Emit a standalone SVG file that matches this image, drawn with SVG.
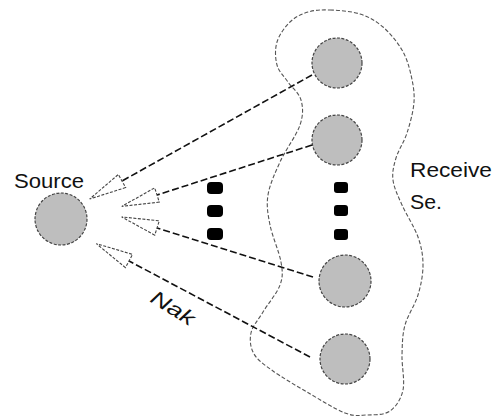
<svg xmlns="http://www.w3.org/2000/svg" width="493" height="418" viewBox="0 0 493 418">
  <style>
    .node { fill: #bebebe; stroke: #444; stroke-width: 1.2; stroke-dasharray: 3 1.5; }
    .link { fill: none; stroke: #111; stroke-width: 1.6; stroke-dasharray: 7 3; marker-end: url(#openTri); }
    .set { fill: none; stroke: #555; stroke-width: 1.1; stroke-dasharray: 4 2; }
    .dot { fill: #000; }
    .label { font-family: "Liberation Sans", Arial, sans-serif; font-size: 20px; fill: #111; }
  </style>
  <defs>
    <!-- open triangular head pointing back at the sender -->
    <marker id="openTri" viewBox="-2 -10 44 20" markerWidth="44" markerHeight="20" refX="0" refY="0" orient="auto" markerUnits="userSpaceOnUse">
      <path d="M0,-7.5 L37,0 L0,7.5 Z" fill="#fff" stroke="#444" stroke-width="1.1" stroke-dasharray="3 1.5"/>
    </marker>
  </defs>

  <!-- receiver set outline -->
  <path class="set" d="M330,10 C338.7,10.3 351.2,11.2 360,14 C368.8,16.8 376,21 383,27 C390,33 397.3,42 402,50 C406.7,58 409,66.3 411,75 C413,83.7 414.7,92.3 414,102 C413.3,111.7 410,123.7 407,133 C404,142.3 398.3,150.2 396,158 C393.7,165.8 392,172.2 393,180 C394,187.8 397.8,195.5 402,205 C406.2,214.5 414.5,227 418,237 C421.5,247 423,255.3 423,265 C423,274.7 421,285 418,295 C415,305 407.7,315 405,325 C402.3,335 402.3,344.2 402,355 C401.7,365.8 405,380.7 403,390 C401,399.3 396,406.8 390,411 C384,415.2 374.5,414.7 367,415 C359.5,415.3 355,416.8 345,413 C335,409.2 319,399 307,392 C295,385 281.8,377.3 273,371 C264.2,364.7 257.7,360.3 254,354 C250.3,347.7 249.5,340 251,333 C252.5,326 258.2,320 263,312 C267.8,304 277,293.3 280,285 C283,276.7 282.7,272 281,262 C279.3,252 272.2,236.2 270,225 C267.8,213.8 266.3,205.5 268,195 C269.7,184.5 274.7,173.7 280,162 C285.3,150.3 296.5,135.3 300,125 C303.5,114.7 303,107.2 301,100 C299,92.8 292,87.8 288,82 C284,76.2 278.8,71.7 277,65 C275.2,58.3 274.8,49.2 277,42 C279.2,34.8 284.8,27 290,22 C295.2,17 301.3,14 308,12 C314.7,10 321.3,9.7 330,10 Z"/>

  <!-- connectors: NAKs flowing back to the source -->
  <g id="connectors">
    <line class="link" x1="312" y1="75" x2="122" y2="181"/>
    <line class="link" x1="312" y1="145" x2="157" y2="195"/>
    <line class="link" x1="313" y1="277" x2="157" y2="228"/>
    <line class="link" x1="310" y1="357" x2="129" y2="261"/>
  </g>

  <!-- ellipsis marks -->
  <g id="ellipsis">
    <rect class="dot" x="207" y="182" width="16" height="12" rx="4"/>
    <rect class="dot" x="207" y="205" width="16" height="12" rx="4"/>
    <rect class="dot" x="207" y="228" width="16" height="12" rx="4"/>
    <rect class="dot" x="334" y="182" width="14" height="11" rx="3"/>
    <rect class="dot" x="334" y="205" width="14" height="11" rx="3"/>
    <rect class="dot" x="334" y="229" width="14" height="11" rx="3"/>
  </g>

  <g id="source">
    <circle class="node" cx="61" cy="219" r="26"/>
    <text class="label" x="14" y="188" textLength="70" lengthAdjust="spacingAndGlyphs">Source</text>
  </g>

  <g id="receiver1"><circle class="node" cx="337" cy="63" r="25"/></g>
  <g id="receiver2"><circle class="node" cx="337" cy="140" r="25"/></g>
  <g id="receiver3"><circle class="node" cx="345" cy="281" r="26"/></g>
  <g id="receiver4"><circle class="node" cx="345" cy="359" r="25"/></g>

  <g id="receiver-set-label">
    <text class="label" x="410" y="177" textLength="82" lengthAdjust="spacingAndGlyphs">Receive</text>
    <text class="label" x="410" y="209" textLength="32" lengthAdjust="spacingAndGlyphs">Se.</text>
  </g>

  <g id="nak-label">
    <text class="label" font-style="italic" font-size="23" transform="translate(149,301) rotate(32)" textLength="48" lengthAdjust="spacingAndGlyphs">Nak</text>
  </g>
</svg>
